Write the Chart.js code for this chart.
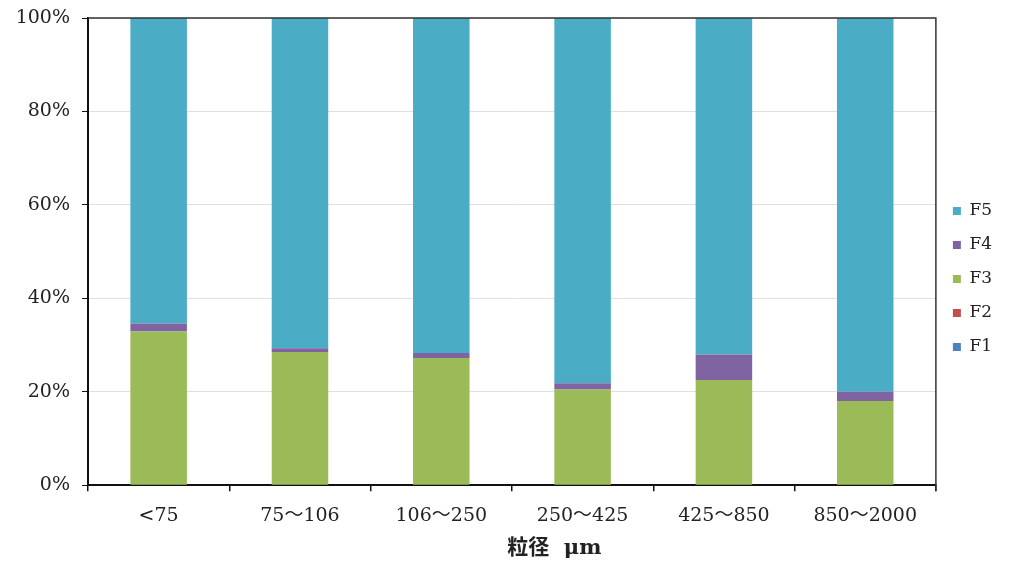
<!DOCTYPE html>
<html>
<head>
<meta charset="utf-8">
<script src="https://cdn.jsdelivr.net/npm/chart.js@4.4.1/dist/chart.umd.min.js"></script>
<style>
  html, body { margin: 0; padding: 0; background: #ffffff; }
  #wrap { width: 1012px; height: 566px; position: relative; }
</style>
</head>
<body>
<div id="wrap"><canvas id="chart" width="1012" height="566"></canvas></div>
<script>
// Particle size classes (µm)
const categories = ['<75', '75～106', '106～250', '250～425', '425～850', '850～2000'];

// Fraction shares per size class (%)
const f1 = [0, 0, 0, 0, 0, 0];
const f2 = [0, 0, 0, 0, 0, 0];
const f3 = [32.9, 28.5, 27.2, 20.5, 22.5, 18.0];
const f4 = [1.7, 0.8, 1.1, 1.3, 5.5, 2.0];
const f5 = [65.4, 70.7, 71.7, 78.2, 72.0, 80.0];

const yTicks = [0, 20, 40, 60, 80, 100];

const serif = '"DejaVu Serif", "Liberation Serif", "Noto Sans CJK JP", serif';

// Dark frame along the top and right edges of the plot area
const frame = {
  id: 'frame',
  afterDatasetsDraw(chart) {
    const a = chart.chartArea;
    const ctx = chart.ctx;
    ctx.save();
    ctx.strokeStyle = '#333';
    ctx.lineWidth = 1.5;
    ctx.beginPath();
    ctx.moveTo(a.left, a.top);
    ctx.lineTo(a.right, a.top);
    ctx.lineTo(a.right, a.bottom + 6);
    ctx.stroke();
    ctx.restore();
  }
};

// Axis title placed under the category labels
const axisTitle = {
  id: 'axisTitle',
  afterDraw(chart) {
    const a = chart.chartArea;
    const ctx = chart.ctx;
    ctx.save();
    ctx.fillStyle = '#222';
    ctx.font = 'bold 21px ' + serif;
    ctx.textAlign = 'center';
    ctx.textBaseline = 'middle';
    ctx.fillText('粒径  μm', a.left + (a.right - a.left) * 0.55, 549);
    ctx.restore();
  }
};

new Chart(document.getElementById('chart'), {
  type: 'bar',
  data: {
    labels: categories,
    datasets: [
      { label: 'F1', data: f1, backgroundColor: '#4F81BD' },
      { label: 'F2', data: f2, backgroundColor: '#C0504D' },
      { label: 'F3', data: f3, backgroundColor: '#9BBB59' },
      { label: 'F4', data: f4, backgroundColor: '#8064A2' },
      { label: 'F5', data: f5, backgroundColor: '#4BACC6' }
    ]
  },
  options: {
    responsive: false,
    animation: false,
    devicePixelRatio: 1,
    layout: { padding: { top: 18, left: 0, right: 10, bottom: 26 } },
    datasets: { bar: { categoryPercentage: 1.0, barPercentage: 0.4, borderWidth: 0 } },
    plugins: {
      legend: {
        position: 'right',
        reverse: true,
        labels: {
          boxWidth: 8,
          boxHeight: 8,
          padding: 17,
          color: '#222',
          font: { family: serif, size: 17 }
        }
      },
      tooltip: { enabled: false }
    },
    scales: {
      x: {
        stacked: true,
        grid: {
          drawOnChartArea: false,
          offset: true,
          tickLength: 6,
          tickColor: '#111',
          lineWidth: 1.5
        },
        border: { color: '#111', width: 2 },
        ticks: {
          color: '#222',
          padding: 13,
          maxRotation: 0,
          font: { family: serif, size: 19 }
        }
      },
      y: {
        stacked: true,
        min: 0,
        max: 100,
        afterBuildTicks(axis) { axis.ticks = yTicks.map(v => ({ value: v })); },
        afterFit(axis) { axis.width = 88; axis.paddingTop = 0; axis.paddingBottom = 0; },
        grid: {
          color: '#e0e0e0',
          lineWidth: 1,
          tickLength: 6,
          tickColor: '#111'
        },
        border: { color: '#111', width: 2 },
        ticks: {
          color: '#222',
          padding: 12,
          font: { family: serif, size: 19 },
          callback: v => v + '%'
        }
      }
    }
  },
  plugins: [frame, axisTitle]
});
</script>
</body>
</html>
